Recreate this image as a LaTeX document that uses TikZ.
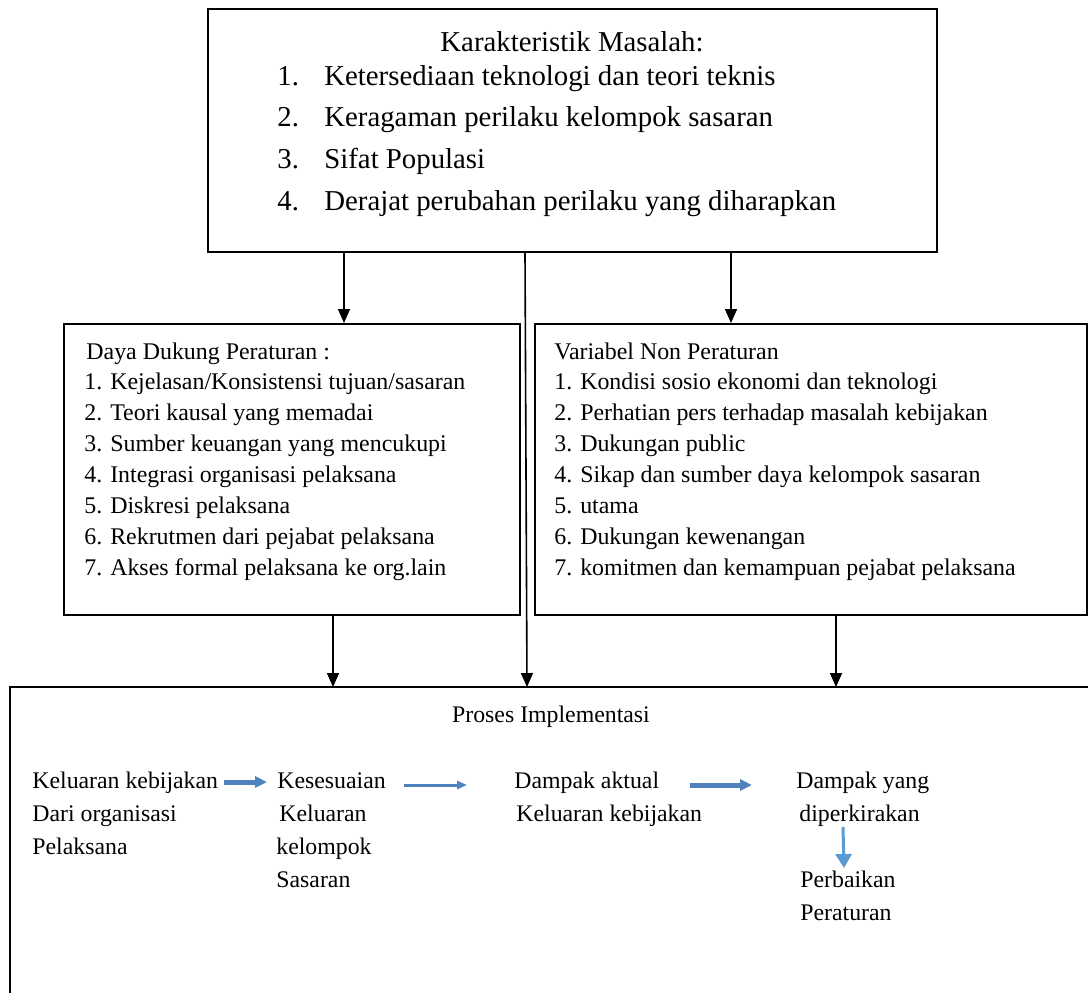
\documentclass[tikz,border=0pt]{standalone}
\usepackage{fontspec}
\setmainfont{Liberation Serif}
\usetikzlibrary{arrows.meta}
\definecolor{flowblue}{RGB}{79,129,189}
\definecolor{downblue}{RGB}{91,155,213}

\begin{document}
\begin{tikzpicture}[x=0.5pt,y=-0.5pt,
	box/.style={draw,line width=0.9pt,rectangle,anchor=north west,inner sep=0pt},
	txt/.style={anchor=base west,inner sep=0pt},
	big/.style={font=\fontsize{14.4}{16}\selectfont},
	small/.style={font=\fontsize{11.95}{13}\selectfont},
	mid/.style={font=\fontsize{11.9}{13}\selectfont},
	link/.style={line width=0.8pt,-{Triangle[width=6pt,length=7pt]}},
	flow/.style={flowblue,line width=2.5pt,-{Triangle[width=5.5pt,length=6pt]}},
	thinflow/.style={flowblue,line width=1.5pt,-{Triangle[width=4pt,length=5pt]}}]
	\useasboundingbox (0,0) rectangle (1088,993);
	% Boxes
	\node [box,minimum width=364.5pt,minimum height=121.5pt] (top) at (207,8) {};
	\node [box,minimum width=228pt,minimum height=145.5pt] (left) at (63,323) {};
	\node [box,minimum width=276pt,minimum height=145.5pt] (right) at (534,323) {};
	\coordinate (proc) at (10,687);
	\draw [line width=0.9pt] (10,993) -- (proc) -- (1088,687);
	% Karakteristik Masalah
	\node [txt,big,anchor=base] (ttl) at (572,51) {Karakteristik Masalah:};
	\node [txt,big] (k1) at (277,85) {\makebox[23.5pt][l]{1.}Ketersediaan teknologi dan teori teknis};
	\node [txt,big] (k2) at (277,126) {\makebox[23.5pt][l]{2.}Keragaman perilaku kelompok sasaran};
	\node [txt,big] (k3) at (277,168) {\makebox[23.5pt][l]{3.}Sifat Populasi};
	\node [txt,big] (k4) at (277,210) {\makebox[23.5pt][l]{4.}Derajat perubahan perilaku yang diharapkan};
	% Daya Dukung Peraturan
	\node [txt,small] (d0) at (86,359) {Daya Dukung Peraturan :};
	\node [txt,small] (d1) at (84,389) {1. Kejelasan/Konsistensi tujuan/sasaran};
	\node [txt,small] (d2) at (84,420) {2. Teori kausal yang memadai};
	\node [txt,small] (d3) at (84,451) {3. Sumber keuangan yang mencukupi};
	\node [txt,small] (d4) at (84,482) {4. Integrasi organisasi pelaksana};
	\node [txt,small] (d5) at (84,513) {5. Diskresi pelaksana};
	\node [txt,small] (d6) at (84,544) {6. Rekrutmen dari pejabat pelaksana};
	\node [txt,small] (d7) at (84,575) {7. Akses formal pelaksana ke org.lain};
	% Variabel Non Peraturan
	\node [txt,small] (v0) at (554,359) {Variabel Non Peraturan};
	\node [txt,small] (v1) at (554,389) {1. Kondisi sosio ekonomi dan teknologi};
	\node [txt,small] (v2) at (554,420) {2. Perhatian pers terhadap masalah kebijakan};
	\node [txt,small] (v3) at (554,451) {3. Dukungan public};
	\node [txt,small] (v4) at (554,482) {4. Sikap dan sumber daya kelompok sasaran};
	\node [txt,small] (v5) at (554,513) {5. utama};
	\node [txt,small] (v6) at (554,544) {6. Dukungan kewenangan};
	\node [txt,small] (v7) at (554,575) {7. komitmen dan kemampuan pejabat pelaksana};
	% Proses Implementasi
	\node [txt,mid,anchor=base] (pi) at (551,722) {Proses Implementasi};
	\node [txt,mid] (o1) at (32,788) {Keluaran kebijakan};
	\node [txt,mid] (o2) at (32,821) {Dari organisasi};
	\node [txt,mid] (o3) at (32,854) {Pelaksana};
	\node [txt,mid] (s1) at (277,788) {Kesesuaian};
	\node [txt,mid] (s2) at (279,821) {Keluaran};
	\node [txt,mid] (s3) at (276,854) {kelompok};
	\node [txt,mid] (s4) at (276,887) {Sasaran};
	\node [txt,mid] (a1) at (514,788) {Dampak aktual};
	\node [txt,mid] (a2) at (516,821) {Keluaran kebijakan};
	\node [txt,mid] (e1) at (796,788) {Dampak yang};
	\node [txt,mid] (e2) at (799,821) {diperkirakan};
	\node [txt,mid] (r1) at (800,887) {Perbaikan};
	\node [txt,mid] (r2) at (800,920) {Peraturan};
	% Connectors
	\coordinate (c1) at (344,0);
	\coordinate (c2) at (731,0);
	\coordinate (c3) at (333,0);
	\coordinate (c4) at (836,0);
	\coordinate (m1) at (525,0);
	\coordinate (m2) at (527,0);
	\draw [link] (top.south -| c1) -- (left.north -| c1);
	\draw [link] (top.south -| c2) -- (right.north -| c2);
	\draw [link] (top.south -| m1) -- (proc -| m2);
	\draw [link] (left.south -| c3) -- (proc -| c3);
	\draw [link] (right.south -| c4) -- (proc -| c4);
	\draw [flow] ([xshift=3pt,yshift=3pt]o1.base east) -- ([xshift=-5pt,yshift=3pt]s1.base west);
	\draw [thinflow] ([xshift=9pt,yshift=1.5pt]s1.base east) -- ([xshift=-23.5pt,yshift=1.5pt]a1.base west);
	\draw [flow] ([xshift=15pt,yshift=1.5pt]a1.base east) -- ([xshift=-22pt,yshift=1.5pt]e1.base west);
	\draw [downblue,line width=1.5pt,-{Triangle[width=8pt,length=7pt]}] ([xshift=22pt,yshift=-3pt]e2.base west) -- ([xshift=22pt,yshift=9.5pt]r1.base west);
\end{tikzpicture}
\end{document}
